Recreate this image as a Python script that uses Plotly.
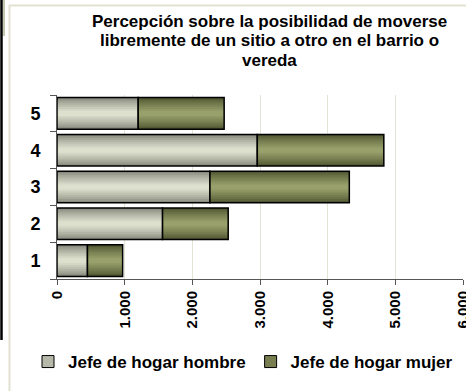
import plotly.graph_objects as go

# Datos: percepción por categoría (1 a 5), según jefe de hogar
categorias = ["1", "2", "3", "4", "5"]
jefe_hombre = [450, 1560, 2260, 2960, 1200]
jefe_mujer = [520, 970, 2060, 1870, 1270]
series_nombres = ["Jefe de hogar hombre", "Jefe de hogar mujer"]
ticks_x = [0, 1000, 2000, 3000, 4000, 5000, 6000]
titulo_lineas = [
    "Percepción sobre la posibilidad de moverse",
    "libremente de un sitio a otro en el barrio o",
    "vereda",
]

# Estilo
ancho_barra = 0.86
colores_borde = {"h": (0x86, 0x88, 0x7c), "m": (0x50, 0x55, 0x30)}
colores_centro = {"h": (0xdd, 0xe0, 0xcd), "m": (0x98, 0xa0, 0x6b)}
capas = [1.0, 0.88, 0.76, 0.64, 0.52, 0.40, 0.28, 0.16]

W, H = 466, 391
ML, MR, MT, MB = 57, 3, 95, 112
PW, PH = W - ML - MR, H - MT - MB


def px_x(px):
    return (px - ML) / PW


def px_y(py):
    return (H - MB - py) / PH


def mezcla(a, b, t):
    return "rgb(%d,%d,%d)" % tuple(round(a[i] + (b[i] - a[i]) * t) for i in range(3))


fig = go.Figure()

bases = {"h": [0] * len(categorias), "m": jefe_hombre}
valores = {"h": jefe_hombre, "m": jefe_mujer}

# Barras con degradado vertical: capas superpuestas cada vez más estrechas
for k in ["h", "m"]:
    n = len(capas)
    for i, f in enumerate(capas):
        t = (i / (n - 1)) ** 0.8
        fig.add_trace(go.Bar(
            y=categorias, x=valores[k], base=bases[k], orientation="h",
            width=ancho_barra * f,
            marker=dict(color=mezcla(colores_borde[k], colores_centro[k], t), line=dict(width=0)),
            showlegend=False, hoverinfo="skip",
        ))
    # contorno negro
    fig.add_trace(go.Bar(
        y=categorias, x=valores[k], base=bases[k], orientation="h",
        width=ancho_barra,
        marker=dict(color="rgba(0,0,0,0)", line=dict(color="black", width=1.5)),
        showlegend=False,
    ))

# Entradas de leyenda
for k, nombre in zip(["h", "m"], series_nombres):
    fig.add_trace(go.Bar(
        y=[None], x=[None], orientation="h", name=nombre,
        marker=dict(color=mezcla(colores_borde[k], colores_centro[k], 0.55),
                    line=dict(color="black", width=1)),
    ))

fuente = "Arial, Liberation Sans, sans-serif"

shapes = [
    # marco del área del gráfico
    dict(type="line", xref="paper", yref="paper", x0=px_x(9.5), x1=px_x(9.5),
         y0=px_y(5), y1=px_y(392), line=dict(color="#e2e2d2", width=2)),
    dict(type="line", xref="paper", yref="paper", x0=px_x(9), x1=px_x(467),
         y0=px_y(5.5), y1=px_y(5.5), line=dict(color="#e2e2d2", width=2)),
    # borde del elemento contiguo a la izquierda
    dict(type="line", xref="paper", yref="paper", x0=px_x(1.5), x1=px_x(1.5),
         y0=px_y(0), y1=px_y(340), line=dict(color="black", width=2.5)),
    dict(type="line", xref="paper", yref="paper", x0=px_x(4), x1=px_x(4),
         y0=px_y(0), y1=px_y(36), line=dict(color="#8c9060", width=1)),
]

# Título en tres líneas con interlineado ajustado
titulo_y = [21, 40.5, 60.5]
annotations = [
    dict(text="<b>" + linea + "</b>", showarrow=False,
         xref="paper", yref="paper", x=px_x(269.5), y=px_y(yy),
         xanchor="center", yanchor="middle",
         font=dict(size=17, family=fuente, color="black"))
    for linea, yy in zip(titulo_lineas, titulo_y)
]

fig.update_layout(
    width=W, height=H,
    margin=dict(l=ML, r=MR, t=MT, b=MB, autoexpand=False),
    paper_bgcolor="white", plot_bgcolor="white",
    barmode="overlay",
    separators=",.",
    font=dict(family=fuente, color="black"),
    annotations=annotations,
    xaxis=dict(
        range=[0, 6000], tickvals=ticks_x, tickformat=",d",
        tickangle=-90, tickfont=dict(size=15, family=fuente, color="black", weight="bold"),
        ticklabeloverflow="allow", automargin=False,
        showgrid=True, gridcolor="#e4e4d4", gridwidth=1,
        showline=True, linecolor="#555555", linewidth=1,
        ticks="outside", ticklen=5, tickcolor="#555555",
        zeroline=False,
    ),
    yaxis=dict(
        type="category", categoryorder="array", categoryarray=categorias,
        range=[-0.5, 4.5], automargin=False,
        tickfont=dict(size=18, family=fuente, color="black", weight="bold"),
        showgrid=False, showline=True, linecolor="#555555", linewidth=1,
        ticks="outside", tickson="boundaries", ticklen=6, tickcolor="#555555",
        ticklabelstandoff=12,
    ),
    legend=dict(
        orientation="h", x=px_x(28), xanchor="left",
        y=px_y(362), yanchor="middle", yref="paper",
        font=dict(size=17, family=fuente, color="black", weight="bold"),
        itemwidth=30,
        traceorder="normal", bgcolor="rgba(0,0,0,0)",
    ),
    shapes=shapes,
)

fig.write_html("out.html")
